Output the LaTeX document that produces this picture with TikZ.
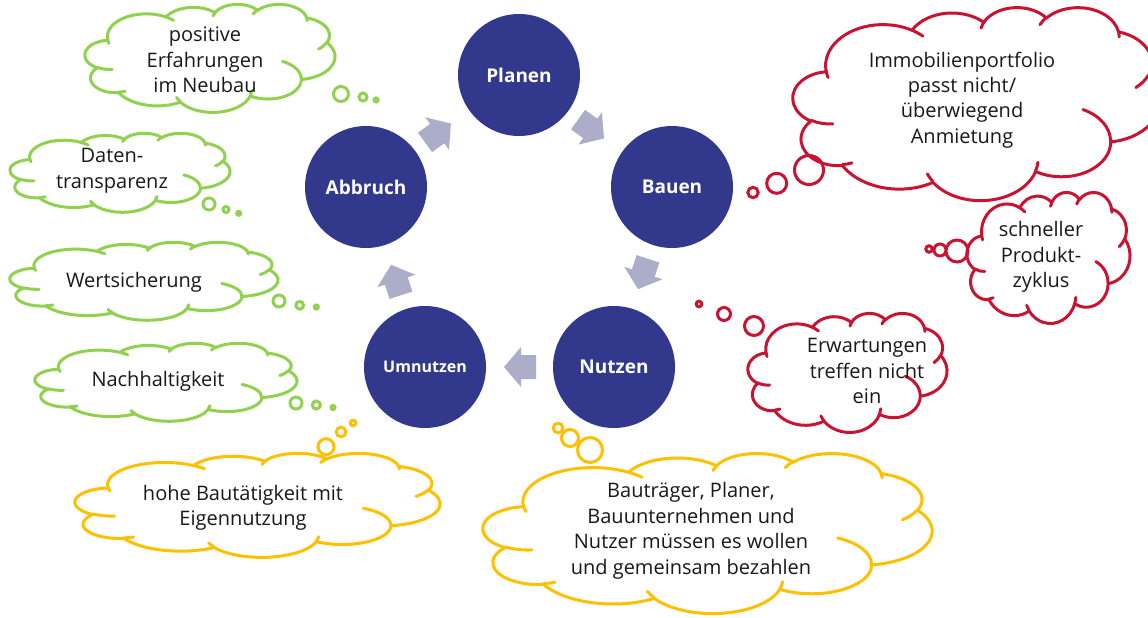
\documentclass[tikz,border=0pt]{standalone}
\usepackage{fontspec}
\setmainfont{Open Sans}
\definecolor{circ}{RGB}{50,57,140}
\definecolor{arr}{RGB}{172,173,200}
\definecolor{cgreen}{RGB}{146,208,80}
\definecolor{cyellow}{RGB}{255,192,0}
\definecolor{cred}{RGB}{200,20,50}
\definecolor{txt}{RGB}{25,25,25}
\tikzset{
  declare function={pa(\wr,\hr,\an)=atan2(\wr*sin(\an),\hr*cos(\an));
                    dl(\wr,\hr,\an,\sw)=mod(pa(\wr,\hr,\an+\sw)-pa(\wr,\hr,\an)+720,360);},
  oa/.style n args={4}{x radius=#1,y radius=#2,start angle={pa(#1,#2,#3)},delta angle={dl(#1,#2,#3,#4)}},
  cloudtext/.style={font=\fontsize{20}{25.5}\selectfont,text=txt,align=center,inner sep=0pt},
  stage/.style={circle,fill=circ,minimum size=122pt,inner sep=0pt,text=white,font=\bfseries\fontsize{19}{22}\selectfont},
  bubble/.style={line width=3pt},
}
\newcommand\cloudouter{(39.00,143.70)
 arc[oa={67.53}{91.90}{-190.4875}{123.7805}]
 arc[oa={53.33}{72.67}{-144.1024}{89.9452}]
 arc[oa={43.65}{59.45}{-145.8079}{99.7230}]
 arc[oa={48.57}{65.95}{-130.9861}{117.2417}]
 arc[oa={53.33}{72.73}{-78.7089}{109.0269}]
 arc[oa={67.75}{92.20}{-46.2673}{130.2690}]
 arc[oa={57.85}{78.67}{0.6250}{114.0333}]
 arc[oa={67.52}{92.15}{22.4516}{115.1726}]
 arc[oa={77.20}{105.43}{66.2426}{75.7110}]
 arc[oa={43.60}{59.18}{-274.9421}{146.7356}]
 arc[oa={43.45}{59.45}{-246.8285}{152.5189}] -- cycle}
\newcommand\cloudinner{
 (46.93,261.77) arc[oa={43.45}{59.45}{86.7420}{26.4295}]
 (69.28,348.99) arc[oa={43.60}{59.18}{73.6105}{11.4475}]
 (164.78,390.90) arc[oa={67.52}{92.15}{137.6242}{14.0811}]
 (288.27,347.51) arc[oa={67.52}{92.15}{6.4533}{15.9984}]
 (341.29,229.54) arc[oa={57.85}{78.67}{-70.2924}{70.9174}]
 (417.98,153.54) arc[oa={53.33}{72.73}{30.3180}{27.7515}]
 (383.24,54.26) arc[oa={48.57}{65.95}{-13.7443}{14.8589}]
 (290.78,39.52) arc[oa={48.57}{65.95}{-149.1815}{18.1954}]
 (221.41,47.20) arc[oa={43.65}{59.45}{-163.4943}{17.6864}]
 (140.00,51.92) arc[oa={67.53}{91.90}{-66.7070}{12.3194}]
 (41.27,157.89) arc[oa={67.53}{91.90}{157.6544}{11.8582}]}
\newcommand\thoughtcloud[5]{%
 \begin{scope}[shift={(#2,#3)},xscale=#4/432,yscale=#5/432]
   \filldraw[fill=white,draw=#1,line width=3pt,line join=round] \cloudouter;
   \draw[#1,line width=3pt,line cap=round] \cloudinner;
 \end{scope}}
\newcommand\blockarrow[3]{%
 \fill[arr,shift={(#1,#2)},rotate=#3] (-16,-12) -- (-1,-12) -- (-1,-20) -- (16,0) -- (-1,20) -- (-1,12) -- (-16,12) -- cycle;}
\begin{document}
\begin{tikzpicture}[x=1pt,y=-1pt]
\fill[white] (0,0) rectangle (1148,618);
\useasboundingbox (0,0) rectangle (1148,618);
\clip (0,0) rectangle (1148,618);
% green clouds
\thoughtcloud{cgreen}{85}{4}{250}{108}
\thoughtcloud{cgreen}{10}{133}{220}{79}
\thoughtcloud{cgreen}{10}{242}{268}{78}
\thoughtcloud{cgreen}{35}{343}{262}{78}
% yellow clouds
\thoughtcloud{cyellow}{75}{453}{365}{104}
\thoughtcloud{cyellow}{483}{453}{449}{160}
% red clouds
\thoughtcloud{cred}{793}{7}{367}{193}
\thoughtcloud{cred}{967}{192}{163}{131}
\thoughtcloud{cred}{748}{313}{199}{119}
% bubbles
\draw[bubble,cgreen] (341,94) circle (7.5) (363,97) circle (4) (376,100) circle (2);
\draw[bubble,cgreen] (209,204) circle (6) (226,209.5) circle (3) (238.7,213.3) circle (2);
\draw[bubble,cgreen] (279,301) circle (6) (299.7,305.3) circle (3.8) (316.3,307) circle (2);
\draw[bubble,cgreen] (296,403) circle (6) (316.3,405) circle (4) (333,407.5) circle (2);
\draw[bubble,cyellow] (326,446.7) circle (8) (341,432) circle (4.8) (353,423) circle (2.8);
\draw[bubble,cyellow] (558,428) circle (4.8) (570,438) circle (8.5) (590,450) circle (12.5);
\draw[bubble,cred] (753,192.5) circle (5.2) (776.7,183.3) circle (10) (809,170) circle (14.5);
\draw[bubble,cred] (929,249) circle (3.2) (940,250) circle (6) (957,251) circle (11);
\draw[bubble,cred] (699,304) circle (2.8) (724,314) circle (6.5) (754,326) circle (9.5);
% cloud texts
\node[cloudtext] (t1) at (205,60) {positive\\Erfahrungen\\im Neubau};
\node[cloudtext] (t2) at (112,171) {Daten-\\transparenz};
\node[cloudtext] (t3) at (134,282) {Wertsicherung};
\node[cloudtext] (t4) at (158,381) {Nachhaltigkeit};
\node[cloudtext] (t5) at (243,508) {hohe Bautätigkeit mit\\Eigennutzung};
\node[cloudtext] (t6) at (691,531) {Bauträger, Planer,\\Bauunternehmen und\\Nutzer müssen es wollen\\und gemeinsam bezahlen};
\node[cloudtext] (t7) at (962,100) {Immobilienportfolio\\passt nicht/\\überwiegend\\Anmietung};
\node[cloudtext] (t8) at (1041,257) {schneller\\Produkt-\\zyklus};
\node[cloudtext] (t9) at (867,371) {Erwartungen\\treffen nicht\\ein};
% cycle
\node[stage] (planen) at (519,75) {Planen};
\node[stage] (bauen) at (672,187) {Bauen};
\node[stage] (nutzen) at (614,367) {Nutzen};
\node[stage,font=\bfseries\fontsize{16}{20}\selectfont] (umnutzen) at (425,367) {Umnutzen};
\node[stage] (abbruch) at (366,187) {Abbruch};
\blockarrow{591}{129}{-36}
\blockarrow{643}{274}{-108}
\blockarrow{520}{367}{180}
\blockarrow{396}{280}{108}
\blockarrow{438}{133}{36}
\end{tikzpicture}
\end{document}
